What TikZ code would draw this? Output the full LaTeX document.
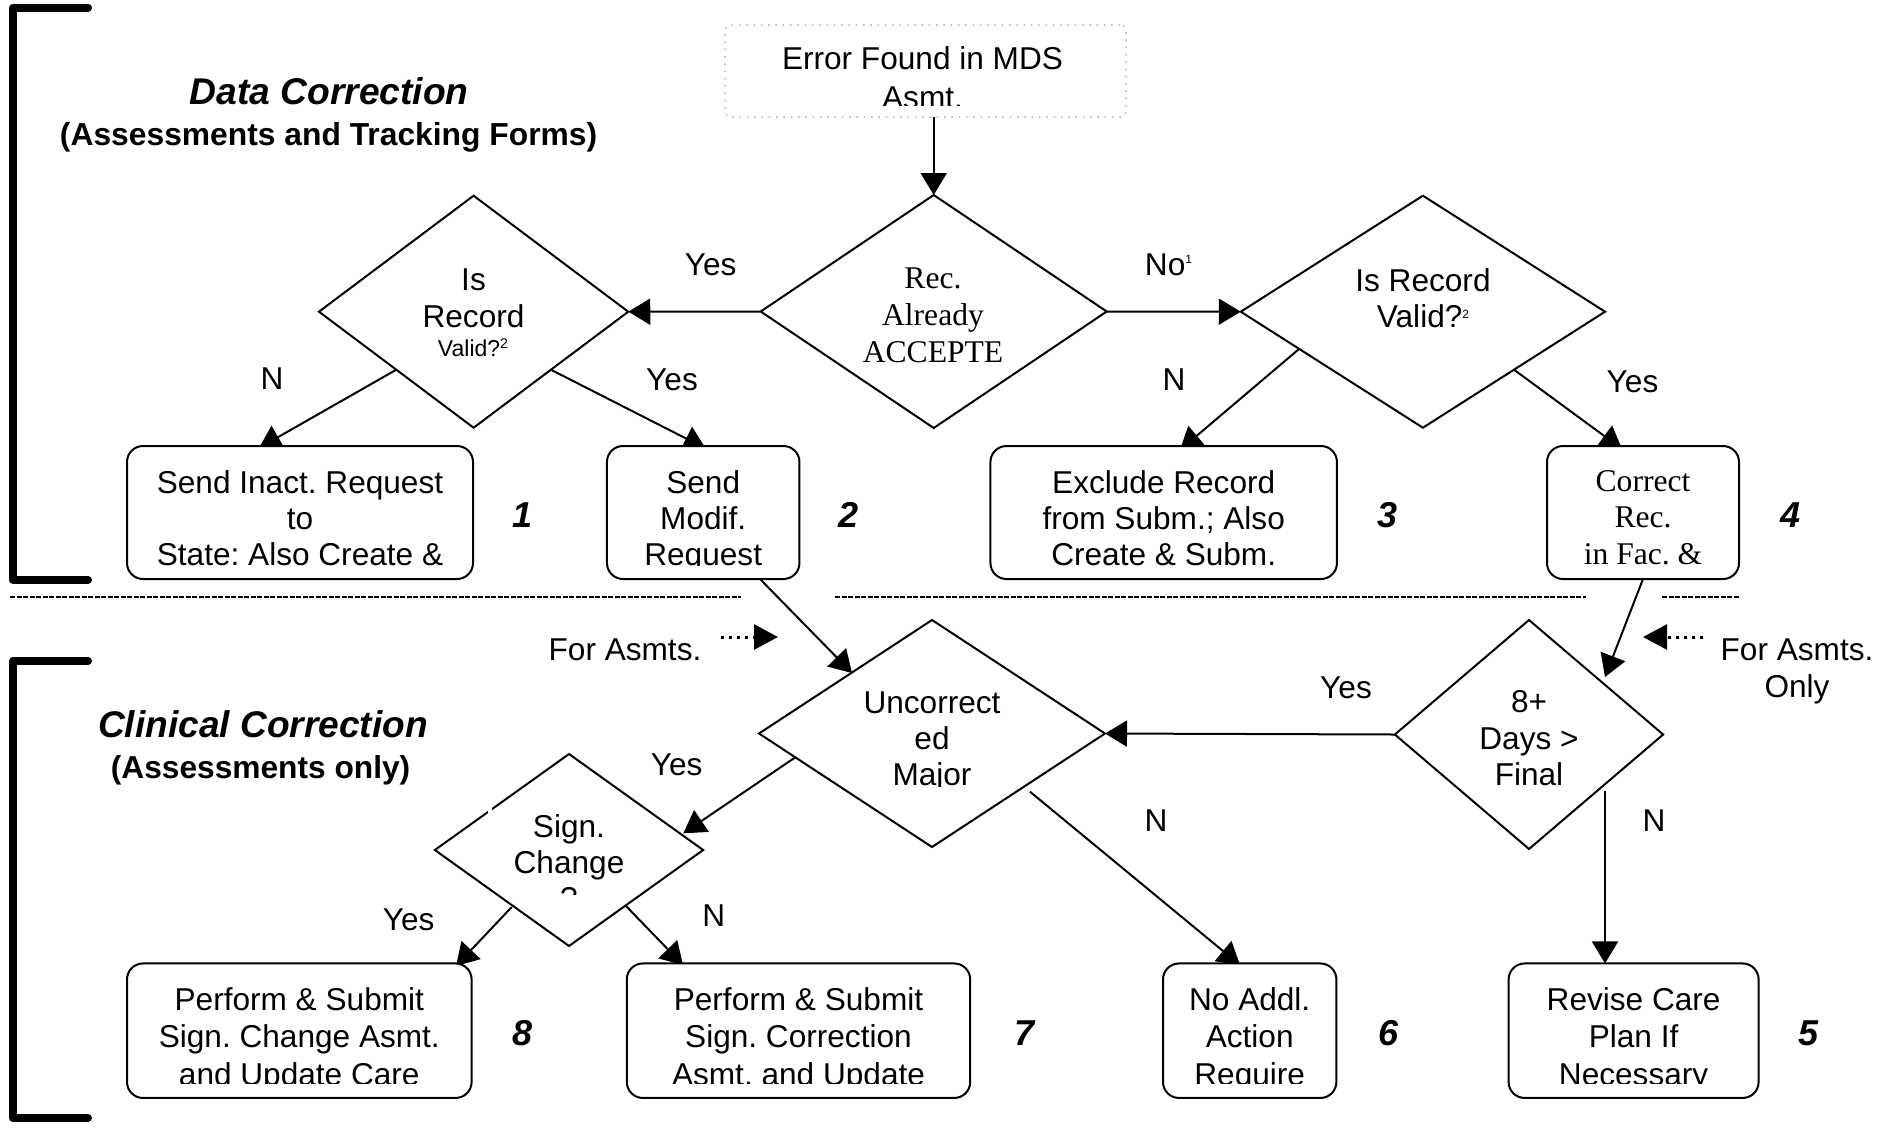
\documentclass[tikz,border=0pt]{standalone}
\usepackage{fontspec}
\setmainfont{Liberation Sans}
\newfontfamily\tms{Liberation Serif}
\usetikzlibrary{arrows.meta,shapes.geometric,backgrounds}
\newcommand\ml[1]{\begin{tabular}[t]{@{}c@{}}#1\end{tabular}}
\newcommand\supx[3]{\raisebox{#2}{\fontsize{#1}{#1}\selectfont #3}}
\frenchspacing
\begin{document}
\begin{tikzpicture}[x=1pt,y=-1pt,
  every node/.style={inner sep=0pt, outer sep=0pt},
  box/.style={draw, line width=2pt, rounded corners=16pt, fill=white},
  dia/.style={draw, diamond, line width=2pt, fill=white},
  tx/.style={anchor=base, font=\fontsize{31.6}{#1}\selectfont},
  ttx/.style={anchor=base, font=\tms\fontsize{31.6}{#1}\selectfont},
  lab/.style={anchor=base, font=\fontsize{31.6}{37}\selectfont},
  num/.style={anchor=center, font=\fontsize{36}{40}\selectfont\bfseries\itshape},
  conn/.style={line width=2pt, -{Triangle[length=22pt,width=26pt]}},
  dotarr/.style={line width=3pt, dash pattern=on 3pt off 5pt, -{Triangle[length=24pt,width=25pt]}},
  brk/.style={line width=8pt, line cap=round, line join=round},
  sep/.style={line width=2.5pt, dash pattern=on 5pt off 1.5pt}
]
\useasboundingbox (0,0) rectangle (1892,1133);

% brackets and separators
\draw[brk] (88,7.7) -- (13,7.7) -- (13,579.8) -- (88,579.8);
\draw[brk] (88,661) -- (13,661) -- (13,1118) -- (88,1118);
\draw[sep] (10,597) -- (741,597);
\draw[sep] (835,597) -- (1586,597);
\draw[sep] (1662,597) -- (1740,597);

% titles
\node[anchor=base, font=\fontsize{37.2}{40}\selectfont\bfseries\itshape] (t1) at (329.2,104) {Data Correction};
\node[anchor=base, font=\fontsize{31.8}{36}\selectfont\bfseries] (t2) at (328.6,145) {(Assessments and Tracking Forms)};
\node[anchor=base, font=\fontsize{37.1}{40}\selectfont\bfseries\itshape] (t3) at (263,737.3) {Clinical Correction};
\node[anchor=base, font=\fontsize{31.7}{36}\selectfont\bfseries] (t4) at (260.6,778.3) {(Assessments only)};

% shapes
\node[draw=gray!60, line width=1.5pt, dash pattern=on 1.5pt off 5.8pt, rounded corners=6pt, minimum width=401, minimum height=92] (err) at (925.5,71) {};
\node[dia, minimum width=346, minimum height=233] (rec) at (933.7,311.5) {};
\node[dia, minimum width=309.3, minimum height=232] (isl) at (473.6,311.7) {};
\node[dia, minimum width=364.3, minimum height=232] (isr) at (1422.9,311.7) {};
\node[dia, minimum width=346, minimum height=227] (unc) at (932,733.5) {};
\node[dia, minimum width=268.3, minimum height=229] (dd) at (1529,734.5) {};
\node[dia, minimum width=268.3, minimum height=192] (sig) at (569,850) {};
\fill[white] (487.5,803) rectangle (492,816);

\node[box, minimum width=346, minimum height=133] (b1) at (300,512.5) {};
\node[box, minimum width=192.5, minimum height=133] (b2) at (703.2,512.5) {};
\node[box, minimum width=346.5, minimum height=133] (b3) at (1163.7,512.5) {};
\node[box, minimum width=192, minimum height=133] (b4) at (1643,512.5) {};
\node[box, minimum width=344.6, minimum height=134.5] (b8) at (299.3,1030.7) {};
\node[box, minimum width=343.4, minimum height=134.5] (b7) at (798.5,1030.7) {};
\node[box, minimum width=173.4, minimum height=134.5] (b6) at (1249.7,1030.7) {};
\node[box, minimum width=250, minimum height=134.5] (b5) at (1633.6,1030.7) {};

% texts in shapes
\begin{scope}
\clip (725,25) rectangle (1126,105.5);
\node[tx=39] (errt) at (922.5,69.3) {\ml{Error Found in MDS\\Asmt.}};
\end{scope}
\node[ttx=37] (rect) at (933,288) {\ml{Rec.\\Already\\ACCEPTE}};
\node[tx=37.7] (islt) at (473.5,290) {\ml{Is\\Record}};
\node[anchor=base, font=\fontsize{23}{27}\selectfont] (islv) at (473,356.7) {Valid?\supx{14}{8.4pt}{2}};
\node[tx=35.6] (isrt) at (1423,291.7) {\ml{Is Record\\Valid?\supx{12}{9pt}{2}}};
\begin{scope}
\clip (760,620) rectangle (1107,786);
\node[tx=36] (unct) at (932,713.3) {\ml{Uncorrect\\ed\\Major}};
\end{scope}
\node[tx=36.3] (ddt) at (1529,712.7) {\ml{8+\\Days >\\Final}};
\begin{scope}
\clip (435,754) rectangle (703,894);
\node[tx=36] (sigt) at (569,837.3) {\ml{Sign.\\Change\\?}};
\end{scope}

\begin{scope}
\clip (100,440) rectangle (1760,565.5);
\node[tx=36] (b1t) at (300,493) {\ml{Send Inact. Request\\to\\State: Also Create \&}};
\node[tx=36] (b2t) at (703.2,493) {\ml{Send\\Modif.\\Request}};
\node[tx=36] (b3t) at (1163.7,493) {\ml{Exclude Record\\from Subm.; Also\\Create \& Subm.}};
\node[ttx=36.5] (b4t) at (1643,491) {\ml{Correct\\Rec.\\in Fac. \&}};
\end{scope}
\begin{scope}
\clip (100,960) rectangle (1760,1083);
\node[tx=37.5] (b8t) at (299.3,1010) {\ml{Perform \& Submit\\Sign. Change Asmt.\\and Update Care}};
\node[tx=37.5] (b7t) at (798.5,1010) {\ml{Perform \& Submit\\Sign. Correction\\Asmt. and Update}};
\node[tx=37.5] (b6t) at (1249.7,1010) {\ml{No Addl.\\Action\\Require}};
\node[tx=37.5] (b5t) at (1633.6,1010) {\ml{Revise Care\\Plan If\\Necessary}};
\end{scope}

% numbers
\node[num] (n1) at (522.5,515) {1};
\node[num] (n2) at (848.2,515) {2};
\node[num] (n3) at (1387.6,515) {3};
\node[num] (n4) at (1790.6,515) {4};
\node[num] (n8) at (522.6,1033.5) {8};
\node[num] (n7) at (1024,1033.5) {7};
\node[num] (n6) at (1388,1033.5) {6};
\node[num] (n5) at (1808,1033.5) {5};

% branch labels
\node[lab] (l1) at (710.7,275) {Yes};
\node[lab] (l2) at (1168.5,275) {No\supx{12}{12pt}{1}};
\node[lab] (l3) at (272,389.5) {N};
\node[lab] (l4) at (672,390) {Yes};
\node[lab] (l5) at (1174,390) {N};
\node[lab] (l6) at (1632.5,392) {Yes};
\node[lab] (l7) at (1346,698.3) {Yes};
\node[lab] (l8) at (1654,831) {N};
\node[lab] (l9) at (1156,831.7) {N};
\node[lab] (l10) at (676.7,775) {Yes};
\node[lab] (l11) at (408.6,930) {Yes};
\node[lab] (l12) at (713.8,926.7) {N};
\node[lab] (fa1) at (625,660) {For Asmts.};
\node[lab] (fa2) at (1797,660) {\ml{For Asmts.\\Only}};

% connector end points
\coordinate (e4) at (259,448);
\coordinate (e5) at (705.7,448.5);
\coordinate (s6) at (1299,349);
\coordinate (e6) at (1180,450);
\coordinate (e7) at (1622,449);
\coordinate (s8) at (760,579);
\coordinate (e8) at (852,673);
\coordinate (e9) at (1605,677);
\coordinate (s11) at (1605,791);
\coordinate (s12) at (1030,791.7);
\coordinate (e12) at (1240,965);
\coordinate (s13) at (796.2,756.7);
\coordinate (e13) at (683.3,833.3);
\coordinate (s14) at (511.7,907);
\coordinate (e14) at (456,966);
\coordinate (s15) at (626,906);
\coordinate (e15) at (683,965);
\coordinate (d1s) at (721,637);
\coordinate (d1e) at (778,637);
\coordinate (d2s) at (1703,637);
\coordinate (d2e) at (1643,637);

\begin{scope}[on background layer]
\draw[conn] (rec.north |- err.south) -- (rec.north);
\draw[conn] (rec.west) -- (isl.east);
\draw[conn] (rec.east) -- (isr.west);
\draw[conn] (isl.south west) -- (e4);
\draw[conn] (isl.south east) -- (e5);
\draw[conn] (s6) -- (e6);
\draw[conn] (isr.south east) -- (e7);
\draw[conn] (s8) -- (e8);
\draw[conn] (b4.south) -- (e9);
\draw[conn] (dd.west) -- (unc.east);
\draw[conn] (s11) -- (s11 |- b5.north);
\draw[conn] (s12) -- (e12);
\draw[conn] (s13) -- (e13);
\draw[conn] (s14) -- (e14);
\draw[conn] (s15) -- (e15);
\draw[dotarr] (d1s) -- (d1e);
\draw[dotarr] (d2s) -- (d2e);
\end{scope}
\end{tikzpicture}
\end{document}
